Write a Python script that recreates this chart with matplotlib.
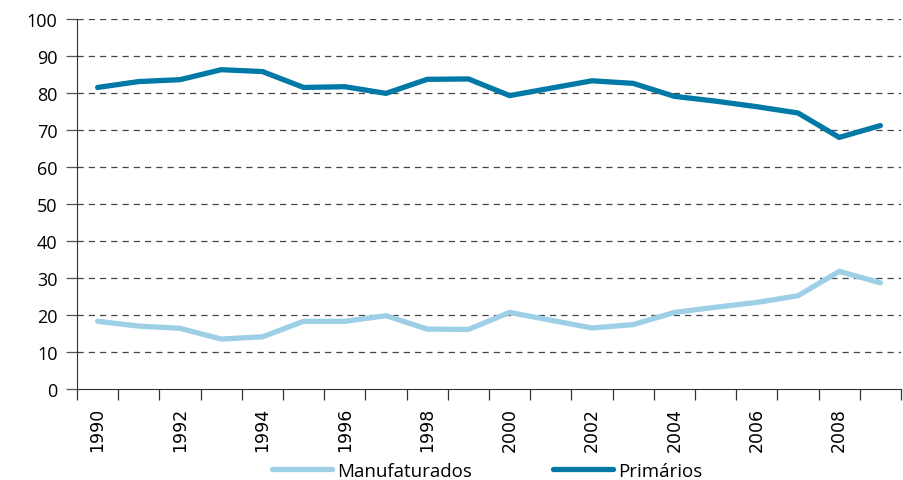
import numpy as np
import matplotlib
matplotlib.use("Agg")
import matplotlib.pyplot as plt

years = list(range(1990, 2010))
primarios = [81.5, 83.1, 83.6, 86.3, 85.8, 81.5, 81.7, 79.9, 83.7, 83.8,
             79.3, 81.3, 83.3, 82.6, 79.1, 77.8, 76.3, 74.6, 68.0, 71.2]
manufaturados = [18.3, 17.0, 16.4, 13.5, 14.1, 18.3, 18.3, 19.8, 16.2, 16.1,
                 20.7, 18.6, 16.5, 17.4, 20.7, 22.1, 23.4, 25.2, 31.8, 28.7]
tick_years = [y for y in years if y % 2 == 0]

plt.rcParams['font.family'] = ['Open Sans', 'DejaVu Sans']

fig = plt.figure(figsize=(9.04, 4.81), dpi=100)
ax = fig.add_axes([0.0852, 0.1892, 0.9115, 0.7692])

x = np.arange(len(years))
ax.plot(x, manufaturados, color='#9dcfe7', lw=3.8, solid_capstyle='round',
        solid_joinstyle='round', label='Manufaturados')
ax.plot(x, primarios, color='#0079a6', lw=3.8, solid_capstyle='round',
        solid_joinstyle='round', label='Primários')

ax.set_xlim(-0.5, len(years) - 0.5)
ax.set_ylim(0, 100)
ax.set_yticks(range(0, 101, 10))
for v in range(10, 101, 10):
    ax.axhline(v, color='#444444', lw=0.9, ls=(0, (5, 4)), zorder=0)

# category boundaries as ticks, labels on even years at centres
ax.set_xticks(np.arange(-0.5, len(years)), minor=True)
ax.set_xticks([years.index(y) for y in tick_years])
ax.set_xticklabels([str(y) for y in tick_years], rotation=90,
                   family='DejaVu Sans', fontsize=12.5)
ax.tick_params(axis='x', which='major', length=0, pad=13)
ax.tick_params(axis='x', which='minor', length=8, width=0.9, color='#333333',
               direction='out')
ax.tick_params(axis='y', length=8, width=0.9, color='#555555', labelsize=13,
               pad=6)

for s in ['top', 'right']:
    ax.spines[s].set_visible(False)
ax.spines['left'].set_color('#333333')
ax.spines['bottom'].set_color('#333333')

fig.legend(loc='lower center', ncol=2, frameon=False, fontsize=13.5,
           handlelength=3.2, handletextpad=0.3, columnspacing=4.3,
           bbox_to_anchor=(0.539, -0.035))

fig.savefig('out.png', dpi=100)
